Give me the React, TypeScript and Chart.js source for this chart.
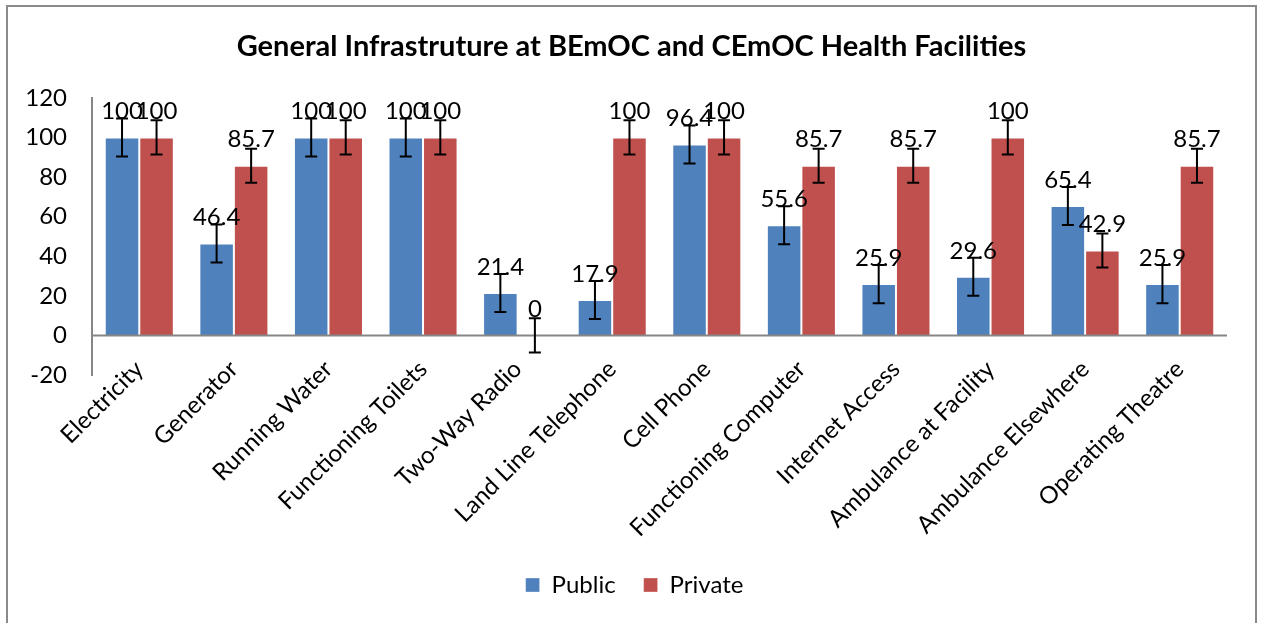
import React, { useEffect, useRef } from "react";
import { Chart, registerables } from "chart.js";

Chart.register(...registerables);

const categories = [
  "Electricity",
  "Generator",
  "Running Water",
  "Functioning Toilets",
  "Two-Way Radio",
  "Land Line Telephone",
  "Cell Phone",
  "Functioning Computer",
  "Internet Access",
  "Ambulance at Facility",
  "Ambulance Elsewhere",
  "Operating Theatre",
];

const publicValues = [100, 46.4, 100, 100, 21.4, 17.9, 96.4, 55.6, 25.9, 29.6, 65.4, 25.9];
const privateValues = [100, 85.7, 100, 100, 0, 100, 100, 85.7, 85.7, 100, 42.9, 85.7];

const publicErrors = [9.6, 9.6, 9.6, 9.6, 9.6, 9.6, 9.6, 9.6, 9.6, 9.6, 9.6, 9.6];
const privateErrors = [8.6, 8.6, 8.6, 8.6, 8.6, 8.6, 8.6, 8.6, 8.6, 8.6, 8.6, 8.6];

const yTicks = [-20, 0, 20, 40, 60, 80, 100, 120];

const FONT = "Lato, 'Open Sans', sans-serif";
const AXIS_GRAY = "#868686";

const errorsByDataset = [publicErrors, privateErrors];

const overlayPlugin = {
  id: "overlay",
  afterLayout(chart: any) {
    if (chart.titleBlock) {
      chart.titleBlock.left += 14;
      chart.titleBlock.right += 14;
    }
    if (chart.legend) {
      chart.legend.left += 17;
      chart.legend.right += 17;
    }
    if (chart.scales.x) {
      chart.scales.x.top -= 20;
    }
  },
  beforeDraw(chart: any) {
    const ctx = chart.ctx;
    ctx.save();
    ctx.strokeStyle = "#8a8a8a";
    ctx.lineWidth = 2;
    ctx.strokeRect(7, 6, 1249, 640);
    ctx.restore();
  },
  afterDatasetsDraw(chart: any) {
    const ctx = chart.ctx;
    const y = chart.scales.y;
    const area = chart.chartArea;
    ctx.save();
    const y0 = y.getPixelForValue(0);
    ctx.strokeStyle = AXIS_GRAY;
    ctx.lineWidth = 2;
    ctx.beginPath();
    ctx.moveTo(area.left, y0);
    ctx.lineTo(area.right, y0);
    ctx.stroke();

    chart.data.datasets.forEach((ds: any, di: number) => {
      const meta = chart.getDatasetMeta(di);
      const errs = errorsByDataset[di];
      meta.data.forEach((bar: any, i: number) => {
        const v = ds.data[i];
        const e = errs[i];
        const top = y.getPixelForValue(v + e);
        const bot = y.getPixelForValue(v - e);
        const x = bar.x;
        ctx.strokeStyle = "#000";
        ctx.lineWidth = 2;
        ctx.beginPath();
        ctx.moveTo(x, top);
        ctx.lineTo(x, bot);
        ctx.moveTo(x - 6, top);
        ctx.lineTo(x + 6, top);
        ctx.moveTo(x - 6, bot);
        ctx.lineTo(x + 6, bot);
        ctx.stroke();
      });
    });
    chart.data.datasets.forEach((ds: any, di: number) => {
      const meta = chart.getDatasetMeta(di);
      meta.data.forEach((bar: any, i: number) => {
        const v = ds.data[i];
        const yp = y.getPixelForValue(v);
        ctx.fillStyle = "#000";
        ctx.font = `24px ${FONT}`;
        ctx.textAlign = "center";
        ctx.textBaseline = "middle";
        ctx.fillText(String(v), bar.x, yp - 26);
      });
    });
    ctx.restore();
  },
};

export default function App() {
  const ref = useRef<HTMLCanvasElement>(null);
  useEffect(() => {
    if (!ref.current) return;
    const chart = new Chart(ref.current, {
      type: "bar",
      data: {
        labels: categories,
        datasets: [
          {
            label: "Public",
            data: publicValues,
            backgroundColor: "#4F81BD",
            borderColor: "rgba(255,255,255,0.35)",
            borderWidth: 1,
            categoryPercentage: 0.73,
            barPercentage: 1.0,
          },
          {
            label: "Private",
            data: privateValues,
            backgroundColor: "#C0504D",
            borderColor: "rgba(255,255,255,0.35)",
            borderWidth: 1,
            categoryPercentage: 0.73,
            barPercentage: 1.0,
          },
        ],
      },
      options: {
        animation: false,
        responsive: false,
        maintainAspectRatio: false,
        layout: { padding: { left: 8, right: 37, top: 0, bottom: 16 } },
        plugins: {
          title: {
            display: true,
            text: "General Infrastruture at BEmOC and CEmOC Health Facilities",
            color: "#000",
            font: { family: FONT, size: 29, weight: "bold" },
            padding: { top: 29, bottom: 34 },
          },
          legend: {
            display: true,
            position: "bottom",
            labels: {
              color: "#000",
              boxWidth: 14,
              boxHeight: 14,
              padding: 28,
              font: { family: FONT, size: 24 },
            },
          },
          tooltip: { enabled: false },
        },
        scales: {
          x: {
            grid: { display: false, drawTicks: false },
            border: { display: false },
            ticks: {
              color: "#000",
              font: { family: FONT, size: 24 },
              minRotation: 45,
              maxRotation: 45,
              autoSkip: false,
              padding: 0,
            },
            afterFit: (s: any) => {
              s.height = 170;
            },
          },
          y: {
            min: -20,
            max: 120,
            grid: { display: false, drawTicks: false },
            border: { display: true, color: AXIS_GRAY, width: 2 },
            afterBuildTicks: (s: any) => {
              s.ticks = yTicks.map((v) => ({ value: v }));
            },
            ticks: {
              color: "#000",
              font: { family: FONT, size: 24 },
              padding: 25,
            },
            afterFit: (s: any) => {
              s.width = 84;
            },
          },
        },
      },
      plugins: [overlayPlugin],
    });
    return () => chart.destroy();
  }, []);
  return (
    <div style={{ position: "fixed", left: 0, top: 0, width: 1264, height: 623, background: "#fff" }}>
      <canvas ref={ref} width={1264} height={623} style={{ display: "block" }} />
    </div>
  );
}
